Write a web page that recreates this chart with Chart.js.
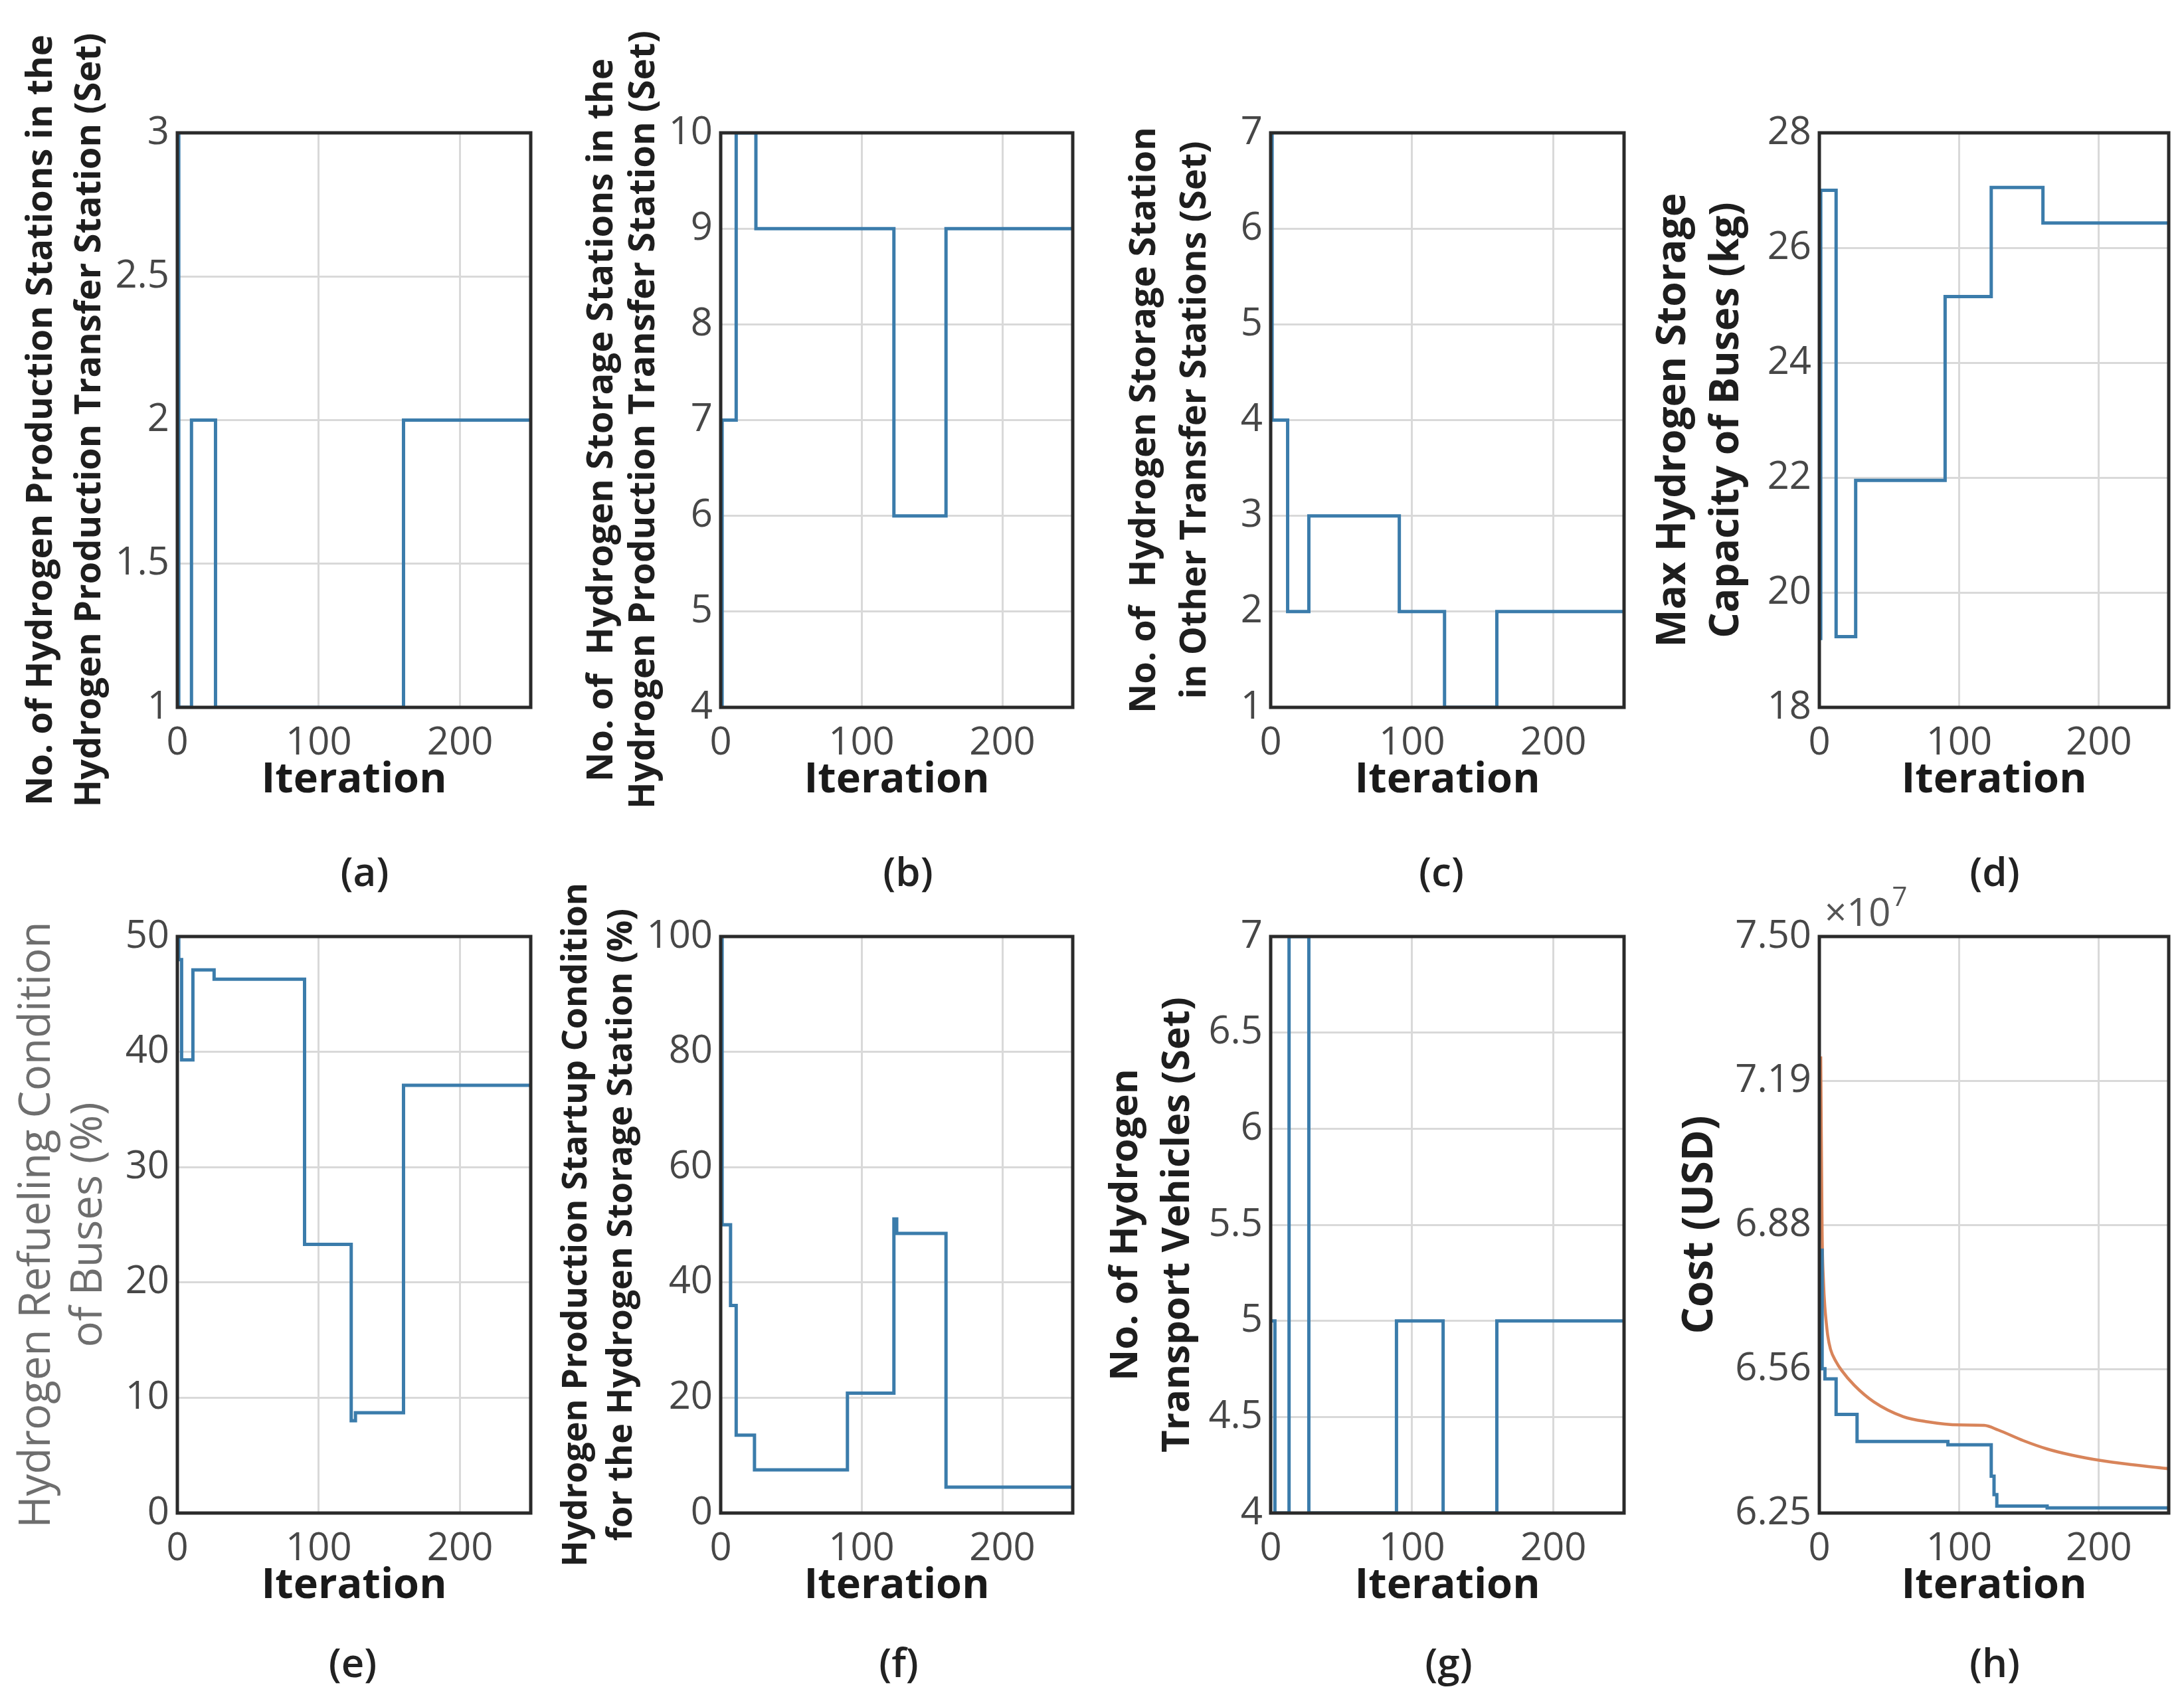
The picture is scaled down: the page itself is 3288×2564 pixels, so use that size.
<!DOCTYPE html>
<html>
<head>
<meta charset="utf-8">
<title>Hydrogen optimisation convergence</title>
<script src="https://cdn.jsdelivr.net/npm/chart.js@4.4.1/dist/chart.umd.min.js"></script>
<style>
  html, body { margin: 0; padding: 0; background: #fff; }
  body { width: 3288px; height: 2564px; position: relative; overflow: hidden; font-family: "Open Sans", sans-serif; }
  .panel { position: absolute; }
  .cap { position: absolute; font: 600 60px "Open Sans", sans-serif; color: #222; transform: translate(-50%, -50%); white-space: nowrap; }
</style>
</head>
<body>
<script>
// ---- data (iteration where each value starts, value held until next point) ----
const xTicks = [0, 100, 200];

const iterA = [0, 1, 10, 27, 160, 250];
const valA  = [3, 1, 2, 1, 2, 2];
const yTicksA = [1, 1.5, 2, 2.5, 3];

const iterB = [0, 1, 11, 25, 123, 160, 250];
const valB  = [4, 7, 10, 9, 6, 9, 9];
const yTicksB = [4, 5, 6, 7, 8, 9, 10];

const iterC = [0, 1, 12, 27, 91, 123, 160, 250];
const valC  = [7, 4, 2, 3, 2, 1, 2, 2];
const yTicksC = [1, 2, 3, 4, 5, 6, 7];

const iterD = [0, 1, 12, 26, 90, 123, 160, 250];
const valD  = [19.2, 27, 19.23, 21.95, 25.15, 27.05, 26.43, 26.43];
const yTicksD = [18, 20, 22, 24, 26, 28];

const iterE = [0, 1, 3, 11, 26, 90, 123, 126, 160, 250];
const valE  = [50, 48, 39.3, 47.1, 46.3, 23.3, 8, 8.7, 37.1, 37.1];
const yTicksE = [0, 10, 20, 30, 40, 50];

const iterF = [0, 1, 7, 11, 24, 90, 123, 125, 160, 250];
const valF  = [100, 50, 36, 13.5, 7.5, 20.8, 51, 48.5, 4.5, 4.5];
const yTicksF = [0, 20, 40, 60, 80, 100];

const iterG = [0, 3, 13, 27, 89, 122, 160, 250];
const valG  = [5, 4, 7, 4, 5, 4, 5, 5];
const yTicksG = [4, 4.5, 5, 5.5, 6, 6.5, 7];

// cost in units of 10^7 USD
const COST_EXP = 7;
const iterHBest = [1, 2, 4, 12, 27, 92, 123, 125, 127, 163, 250];
const costBest  = [6.82, 6.563, 6.541, 6.464, 6.405, 6.398, 6.33, 6.29, 6.265, 6.261, 6.261];
const iterHMean = [1, 2, 3, 4, 5, 6, 8, 12, 16, 25, 39, 60, 77, 100, 118, 128, 146, 163, 180, 201, 223, 250];
const costMean  = [7.24, 6.86, 6.75, 6.695, 6.662, 6.635, 6.605, 6.578, 6.559, 6.527, 6.491, 6.459, 6.448, 6.441, 6.44, 6.43, 6.407, 6.389, 6.376, 6.364, 6.355, 6.346];
const yTicksH = [6.25, 6.5625, 6.875, 7.1875, 7.5];

// ---- look ----
const BLUE = '#3b7cab';
const ORANGE = '#d8845a';
const COLS = [[267, 799], [1085, 1615], [1913, 2445], [2739, 3265]];
const ROWS = [[200, 1065], [1410, 2278]];
const CAP_Y = [1311, 2502];
const PAD_TOP = 195, PAD_RIGHT = 30, X_AXIS_H = 148;

Chart.defaults.font.family = '"Open Sans", sans-serif';

const measureCtx = document.createElement('canvas').getContext('2d');
function fitFont(text, target, weight) {
  measureCtx.font = `${weight} 100px "Open Sans"`;
  return 100 * target / measureCtx.measureText(text).width;
}

const boxPlugin = {
  id: 'box',
  afterDraw(chart) {
    const { ctx, chartArea: a } = chart;
    ctx.save();
    ctx.strokeStyle = '#2a2a2a';
    ctx.lineWidth = 5;
    ctx.strokeRect(a.left, a.top, a.right - a.left, a.bottom - a.top);
    ctx.restore();
  }
};

const expPlugin = {
  id: 'exp',
  afterDraw(chart) {
    const { ctx, chartArea: a } = chart;
    ctx.save();
    ctx.fillStyle = '#555';
    ctx.textBaseline = 'alphabetic';
    ctx.font = '58px "Open Sans"';
    ctx.fillText('×10', a.left + 8, a.top - 16);
    const w = ctx.measureText('×10').width;
    ctx.font = '40px "Open Sans"';
    ctx.fillText(String(COST_EXP), a.left + 10 + w, a.top - 46);
    ctx.restore();
  }
};

function stepSeries(xs, ys) {
  return {
    data: xs.map((x, i) => ({ x, y: ys[i] })),
    borderColor: BLUE, borderWidth: 5, pointRadius: 0, stepped: true, fill: false
  };
}

const panels = [
  { cap: '(a)', col: 0, row: 0, capX: 549, title: ['No. of Hydrogen Production Stations in the', 'Hydrogen Production Transfer Station (Set)'],
    fit: 0, len: 1161, t1: 63, sp: 73, min: 1, max: 3, ticks: yTicksA, sets: [stepSeries(iterA, valA)] },
  { cap: '(b)', col: 1, row: 0, capX: 1367, title: ['No. of  Hydrogen Storage Stations in the', 'Hydrogen Production Transfer Station (Set)'],
    fit: 1, len: 1173, t1: 907, sp: 63, min: 4, max: 10, ticks: yTicksB, sets: [stepSeries(iterB, valB)] },
  { cap: '(c)', col: 2, row: 0, capX: 2170, title: ['No. of  Hydrogen Storage Station', 'in Other Transfer Stations (Set)'],
    fit: 0, len: 883, t1: 1724, sp: 76, min: 1, max: 7, ticks: yTicksC, sets: [stepSeries(iterC, valC)] },
  { cap: '(d)', col: 3, row: 0, capX: 3003, title: ['Max Hydrogen Storage', 'Capacity of Buses (kg)'],
    fit: 0, len: 684, t1: 2520, sp: 80, min: 18, max: 28, ticks: yTicksD, sets: [stepSeries(iterD, valD)] },
  { cap: '(e)', col: 0, row: 1, capX: 531, title: ['Hydrogen Refueling Condition', 'of Buses (%)'],
    fit: 0, len: 913, t1: 56, sp: 78, min: 0, max: 50, ticks: yTicksE, sets: [stepSeries(iterE, valE)],
    weight: 'normal', tcolor: '#6e6e6e' },
  { cap: '(f)', col: 1, row: 1, capX: 1353, title: ['Hydrogen Production Startup Condition', 'for the Hydrogen Storage Station (%)'],
    fit: 0, len: 1030, t1: 868, sp: 68, min: 0, max: 100, ticks: yTicksF, sets: [stepSeries(iterF, valF)] },
  { cap: '(g)', col: 2, row: 1, capX: 2181, title: ['No. of Hydrogen', 'Transport Vehicles (Set)'],
    fit: 1, len: 686, t1: 1695, sp: 78, min: 4, max: 7, ticks: yTicksG, sets: [stepSeries(iterG, valG)] },
  { cap: '(h)', col: 3, row: 1, capX: 3003, title: ['Cost (USD)'],
    fit: 0, len: 329, t1: 2560, sp: 70, min: 6.25, max: 7.5, ticks: yTicksH, fmt: v => v.toFixed(2), exp: true,
    sets: [
      stepSeries(iterHBest, costBest),
      { data: iterHMean.map((x, i) => ({ x, y: costMean[i] })), borderColor: ORANGE, borderWidth: 4.5,
        pointRadius: 0, cubicInterpolationMode: 'monotone', fill: false }
    ] }
];

function makePanel(p) {
  const [bl, br] = COLS[p.col];
  const [bt, bb] = ROWS[p.row];
  const weight = p.weight || 'bold';
  const size = fitFont(p.title[p.fit], p.len, weight);
  const left = Math.floor(p.t1 - p.sp / 2);
  const top = bt - PAD_TOP;
  const w = br + PAD_RIGHT - left;
  const h = PAD_TOP + (bb - bt) + X_AXIS_H;

  const div = document.createElement('div');
  div.className = 'panel';
  div.style.cssText = `left:${left}px;top:${top}px;width:${w}px;height:${h}px;`;
  const canvas = document.createElement('canvas');
  div.appendChild(canvas);
  document.body.appendChild(div);

  const cap = document.createElement('div');
  cap.className = 'cap';
  cap.style.left = p.capX + 'px';
  cap.style.top = CAP_Y[p.row] + 'px';
  cap.textContent = p.cap;
  document.body.appendChild(cap);

  const grid = { color: '#d9d9d9', lineWidth: 3, drawTicks: false };
  new Chart(canvas, {
    type: 'line',
    data: { datasets: p.sets },
    options: {
      responsive: true,
      maintainAspectRatio: false,
      animation: false,
      layout: { padding: { top: PAD_TOP, right: PAD_RIGHT, left: 0, bottom: 0 } },
      plugins: { legend: { display: false }, tooltip: { enabled: false } },
      scales: {
        x: {
          type: 'linear', min: 0, max: 250,
          afterBuildTicks: s => { s.ticks = xTicks.map(v => ({ value: v })); },
          afterFit: s => { s.height = X_AXIS_H; },
          grid, border: { display: false },
          ticks: { padding: 20, color: '#474747', font: { size: 58 }, maxRotation: 0, callback: v => String(v) },
          title: { display: true, text: 'Iteration', color: '#1a1a1a', font: { size: 63, weight: 'bold' }, padding: { top: 0, bottom: 0 } }
        },
        y: {
          type: 'linear', min: p.min, max: p.max,
          afterBuildTicks: s => { s.ticks = p.ticks.map(v => ({ value: v })); },
          afterFit: s => { s.width = bl - left; },
          grid, border: { display: false },
          ticks: { padding: 12, color: '#474747', font: { size: 58 }, callback: p.fmt || (v => String(v)) },
          title: { display: true, text: p.title, color: p.tcolor || '#1e1e1e',
                   font: { size: size, weight: weight, lineHeight: p.sp + 'px' }, padding: { top: 0, bottom: 0 } }
        }
      }
    },
    plugins: p.exp ? [boxPlugin, expPlugin] : [boxPlugin]
  });
}

panels.forEach(makePanel);
</script>
</body>
</html>
